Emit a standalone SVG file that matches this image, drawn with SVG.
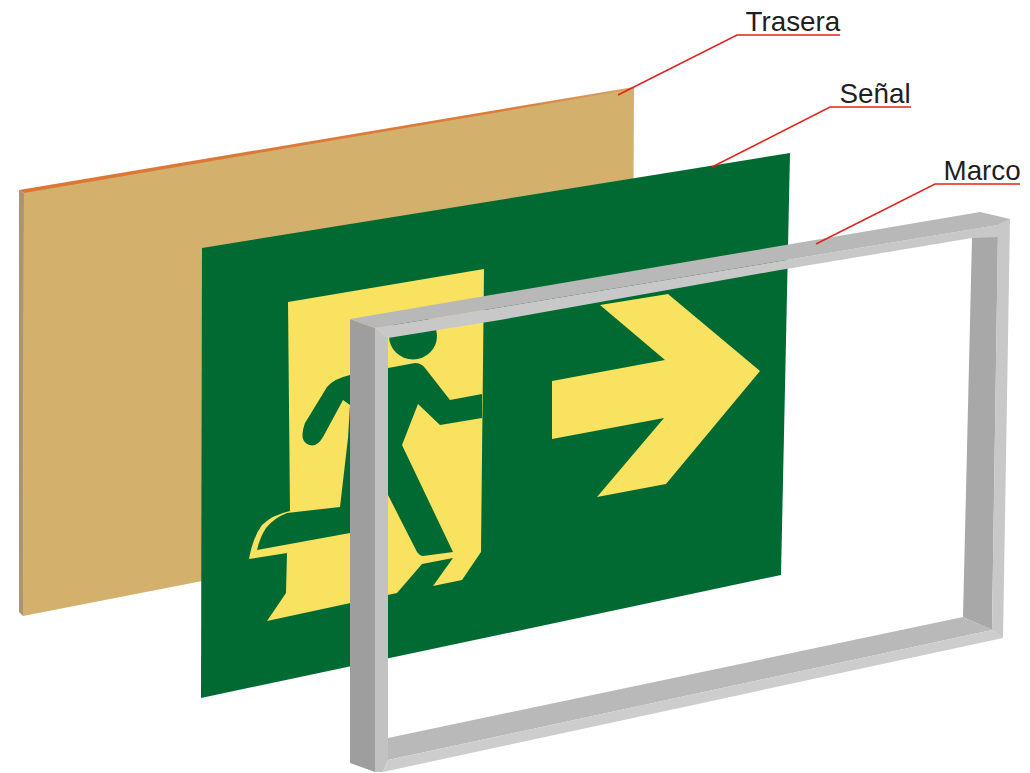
<svg xmlns="http://www.w3.org/2000/svg" width="1030" height="773" viewBox="0 0 1030 773">
<defs>
<linearGradient id="edge" gradientUnits="userSpaceOnUse" x1="19" y1="190" x2="634" y2="88">
<stop offset="0" stop-color="#dc7635"/>
<stop offset="0.8" stop-color="#dc7d3c"/>
<stop offset="1" stop-color="#d3a566"/>
</linearGradient>
</defs>
<style>
.lbl{font-family:"Liberation Sans",Arial,sans-serif;font-size:27.8px;fill:#1f1f1f}
.lead{fill:none;stroke:#e2231a;stroke-width:1.5}
.sy{fill:#f8e260}
.sg{fill:#006a33}
</style>
<rect width="1030" height="773" fill="#ffffff"/>
<g id="trasera">
<polygon points="24,192 634,88 632,497 23,616" fill="#d3b16c"/>
<polygon points="19,190 24,193 23,616 19,612" fill="#ab9470"/>
<polygon points="19,190 634,87 634,89 24,193" fill="url(#edge)"/>
</g>
<g id="senal">
<polygon class="sg" points="202,248 790,153 781,575 201,698"/>
<path class="sy" d="M288,302 L484,269 L481,552 L462,580 L433,586 L453,558 L422,564 L397,593 L267,621 L286,593 L287,553 L249,559 Q253,537 262,525 Q272,515 290,511 Z"/>
<polygon class="sy" points="600,305 668,294 760,371 666,484 597,497 664,418 552,439 552,381 665,360"/>
<ellipse class="sg" cx="413" cy="336" rx="24" ry="23.5"/>
<path class="sg" d="M388,368 L415,363 Q421,363 425,368 L450,400 L482,394 L482,418 L440,425 L418,404 L402,445 L453,552 L423,556 Q420,556 417,552 L387,493 L350,533 L257,550 Q260,537 266,528 Q274,518 287,513 L340,507 L348,438 L350,405 L343,400 L323,437 Q316,449 307,444 Q299,439 305,423 L327,387 Q333,379 350,375 Z"/>
</g>
<g id="marco">
<polygon points="350,319 375,328 375,772 350,763" fill="#9e9e9e"/>
<polygon points="375,328 388,338 388,760 383,772 375,772" fill="#c2c2c2"/>
<polygon points="972,238 998,232 992,630 963,617" fill="#a8a8a8"/>
<polygon points="388,738 963,617 992,630 388,760" fill="#b9b9b9"/>
<polygon points="388,760 992,630 1003,638 383,772" fill="#cdcdcd"/>
<polygon points="998,225 1010,219 1003,638 992,630" fill="#c8c8c8"/>
<polygon points="375,328 998,225 1010,219 998,237 972,238 780,270 500,320 388,338" fill="#c8c8c8"/>
<polygon points="350,319 980,212 1010,219 998,225 375,328" fill="#b8b8b8"/>
</g>
<g id="connectors">
<polyline class="lead" points="618,95 737,35 840,35"/>
<polyline class="lead" points="712,167 830,107 911,107"/>
<polyline class="lead" points="816,244 935,184 1020,184"/>
</g>
<g id="labels">
<text class="lbl" x="745.5" y="31">Trasera</text>
<text class="lbl" x="839.5" y="103">Señal</text>
<text class="lbl" x="943.5" y="180">Marco</text>
</g>
</svg>
